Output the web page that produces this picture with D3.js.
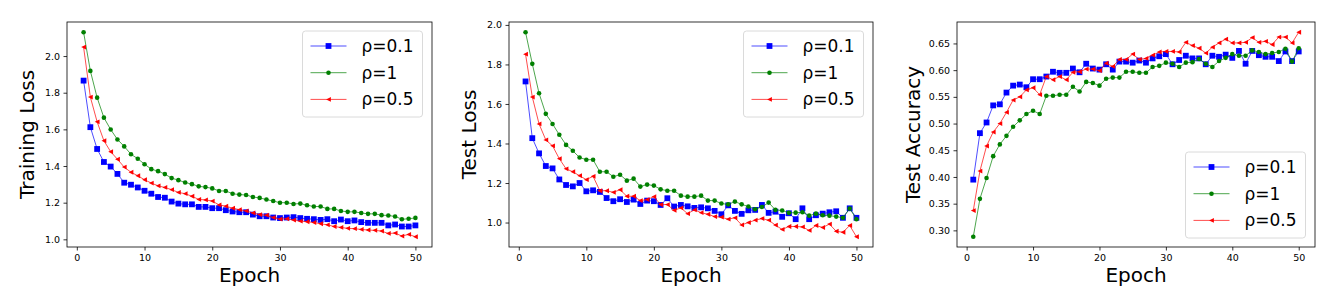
<!DOCTYPE html>
<html>
<head>
<meta charset="utf-8">
<script src="https://cdn.jsdelivr.net/npm/d3@7"></script>
<style>
  body { margin: 0; background: #fff; }
  svg { display: block; font-family: "DejaVu Sans", sans-serif; }
</style>
</head>
<body>
<svg id="chart" width="1336" height="308"></svg>
<script>
// epochs 1..50
var epochs = [1,2,3,4,5,6,7,8,9,10,11,12,13,14,15,16,17,18,19,20,21,22,23,24,25,
  26,27,28,29,30,31,32,33,34,35,36,37,38,39,40,41,42,43,44,45,46,47,48,49,50]
var seriesNames = ["ρ=0.1", "ρ=1", "ρ=0.5"]
var xTicks = [0, 10, 20, 30, 40, 50]

// Training loss
var trainLoss01 = [1.866,1.612,1.493,1.422,1.397,1.357,1.309,1.298,1.283,1.265,1.249,1.231,1.227,1.206,1.195,
  1.191,1.191,1.177,1.177,1.170,1.170,1.159,1.152,1.148,1.148,1.135,1.126,1.126,1.119,1.116,
  1.119,1.121,1.116,1.112,1.110,1.106,1.110,1.099,1.108,1.099,1.103,1.094,1.090,1.090,1.090,
  1.076,1.081,1.070,1.070,1.076]
var trainLoss1 = [2.130,1.919,1.773,1.664,1.599,1.545,1.507,1.464,1.440,1.410,1.383,1.372,1.356,1.334,1.323,
  1.310,1.301,1.289,1.285,1.278,1.264,1.264,1.249,1.244,1.242,1.231,1.226,1.217,1.209,1.200,
  1.200,1.193,1.195,1.186,1.179,1.179,1.166,1.166,1.155,1.150,1.150,1.144,1.139,1.139,1.132,
  1.130,1.125,1.110,1.112,1.117]
var trainLoss05 = [2.049,1.776,1.641,1.538,1.478,1.437,1.394,1.366,1.347,1.325,1.307,1.292,1.283,1.271,1.256,
  1.249,1.235,1.218,1.215,1.209,1.188,1.181,1.170,1.162,1.155,1.144,1.135,1.132,1.119,1.110,
  1.112,1.105,1.099,1.096,1.092,1.085,1.079,1.070,1.065,1.060,1.058,1.054,1.051,1.049,1.045,
  1.032,1.034,1.018,1.027,1.014]
var trainTicks = [1.0, 1.2, 1.4, 1.6, 1.8, 2.0]

// Test loss
var testLoss01 = [1.714,1.427,1.350,1.286,1.274,1.218,1.190,1.183,1.200,1.158,1.163,1.155,1.124,1.108,1.118,
  1.104,1.116,1.094,1.111,1.108,1.089,1.123,1.081,1.089,1.082,1.074,1.077,1.072,1.059,1.042,
  1.087,1.059,1.044,1.062,1.064,1.089,1.049,1.055,1.029,1.047,1.017,1.072,1.017,1.037,1.045,
  1.052,1.057,1.024,1.072,1.024]
var testLoss1 = [1.963,1.803,1.654,1.550,1.499,1.444,1.393,1.363,1.329,1.318,1.318,1.257,1.257,1.232,1.242,
  1.212,1.222,1.182,1.192,1.187,1.168,1.161,1.161,1.136,1.131,1.131,1.136,1.111,1.111,1.096,
  1.092,1.106,1.092,1.081,1.067,1.079,1.101,1.064,1.061,1.049,1.050,1.052,1.035,1.045,1.037,
  1.035,1.030,1.024,1.071,1.017]
var testLoss05 = [1.852,1.635,1.499,1.418,1.388,1.323,1.272,1.257,1.237,1.217,1.234,1.161,1.161,1.153,1.166,
  1.133,1.133,1.111,1.116,1.131,1.091,1.091,1.062,1.074,1.045,1.064,1.050,1.042,1.030,1.027,
  1.017,1.024,0.988,1.000,1.012,1.020,1.012,0.987,0.965,0.980,0.980,0.978,0.960,0.985,0.975,
  0.992,0.956,0.951,0.985,0.928]
var testLossTicks = [1.0, 1.2, 1.4, 1.6, 1.8, 2.0]

// Test accuracy
var testAcc01 = [0.395,0.482,0.502,0.534,0.536,0.558,0.571,0.573,0.568,0.583,0.583,0.588,0.597,0.595,0.595,
  0.603,0.596,0.612,0.603,0.601,0.611,0.601,0.616,0.616,0.614,0.618,0.614,0.622,0.626,0.630,
  0.611,0.619,0.627,0.622,0.622,0.611,0.627,0.625,0.629,0.623,0.636,0.612,0.636,0.628,0.625,
  0.625,0.617,0.635,0.617,0.635]
var testAcc1 = [0.288,0.359,0.398,0.439,0.461,0.477,0.494,0.506,0.518,0.524,0.518,0.552,0.552,0.554,0.554,
  0.569,0.560,0.578,0.576,0.571,0.584,0.586,0.586,0.597,0.597,0.595,0.595,0.606,0.608,0.614,
  0.612,0.606,0.614,0.615,0.621,0.612,0.606,0.617,0.623,0.630,0.627,0.627,0.637,0.634,0.630,
  0.632,0.634,0.640,0.616,0.641]
var testAcc05 = [0.337,0.411,0.458,0.484,0.500,0.521,0.544,0.550,0.563,0.567,0.554,0.588,0.582,0.588,0.582,
  0.596,0.597,0.602,0.602,0.599,0.613,0.607,0.620,0.620,0.630,0.620,0.622,0.628,0.634,0.635,
  0.635,0.634,0.652,0.646,0.641,0.632,0.643,0.651,0.658,0.651,0.651,0.652,0.661,0.652,0.654,
  0.648,0.662,0.662,0.651,0.671]
var testAccTicks = [0.30, 0.35, 0.40, 0.45, 0.50, 0.55, 0.60, 0.65]

var colors = ["#0000ff", "#008000", "#ff0000"]

var panels = [
  {left: 67, right: 432, ylabel: "Training Loss", labelX: 34, data: [trainLoss01, trainLoss1, trainLoss05],
    yTicks: trainTicks, fmt: d3.format(".1f"), legend: "top"},
  {left: 509, right: 873, ylabel: "Test Loss", labelX: 476, data: [testLoss01, testLoss1, testLoss05],
    yTicks: testLossTicks, fmt: d3.format(".1f"), legend: "top"},
  {left: 957, right: 1315, ylabel: "Test Accuracy", labelX: 920, data: [testAcc01, testAcc1, testAcc05],
    yTicks: testAccTicks, fmt: d3.format(".2f"), legend: "bottom"}
]
var plotTop = 22, plotBottom = 247

var svg = d3.select("#chart")

function padded(lo, hi) {
  var m = (hi - lo) * 0.05
  return [lo - m, hi + m]
}

function drawMarker(g, i, x, y) {
  if (i == 0) {
    g.append("rect").attr("x", x - 2.9).attr("y", y - 2.9).attr("width", 5.8).attr("height", 5.8)
      .attr("fill", colors[0])
  } else if (i == 1) {
    g.append("circle").attr("cx", x).attr("cy", y).attr("r", 2.3).attr("fill", colors[1])
  } else {
    g.append("path").attr("d", "M" + (x - 2.4) + "," + y + "L" + (x + 2.4) + "," + (y - 2.4) +
      "L" + (x + 2.4) + "," + (y + 2.4) + "Z").attr("fill", colors[2])
  }
}

panels.forEach(function(p) {
  var all = [].concat(p.data[0], p.data[1], p.data[2])
  var x = d3.scaleLinear().domain(padded(1, 50)).range([p.left, p.right])
  var y = d3.scaleLinear().domain(padded(d3.min(all), d3.max(all))).range([plotBottom, plotTop])

  var g = svg.append("g")

  g.append("g")
    .attr("transform", "translate(0," + plotBottom + ")")
    .call(d3.axisBottom(x).tickValues(xTicks).tickSize(3.5).tickPadding(3.5).tickFormat(d3.format("d")))
  g.append("g")
    .attr("transform", "translate(" + p.left + ",0)")
    .call(d3.axisLeft(y).tickValues(p.yTicks).tickSize(3.5).tickPadding(3.5).tickFormat(p.fmt))
  g.selectAll(".domain").remove()
  g.selectAll(".tick line").attr("stroke", "#000").attr("stroke-width", 0.8)
  g.selectAll(".tick text").attr("font-size", 9.5).attr("fill", "#000")
    .attr("font-family", "DejaVu Sans, sans-serif")

  // frame
  g.append("rect").attr("x", p.left).attr("y", plotTop).attr("width", p.right - p.left)
    .attr("height", plotBottom - plotTop).attr("fill", "none").attr("stroke", "#000").attr("stroke-width", 0.8)

  var line = d3.line().x(function(d, i) { return x(epochs[i]) }).y(function(d) { return y(d) })
  p.data.forEach(function(series, si) {
    g.append("path").datum(series).attr("d", line).attr("fill", "none")
      .attr("stroke", colors[si]).attr("stroke-width", 0.7)
    var mg = g.append("g")
    series.forEach(function(v, k) { drawMarker(mg, si, x(epochs[k]), y(v)) })
  })

  // labels
  g.append("text").attr("x", (p.left + p.right) / 2).attr("y", 282).attr("text-anchor", "middle")
    .attr("font-size", 20).text("Epoch")
  g.append("text").attr("transform", "translate(" + p.labelX + "," + (plotTop + plotBottom) / 2 + ") rotate(-90)")
    .attr("text-anchor", "middle").attr("font-size", 20).text(p.ylabel)

  // legend
  var lw = 120, lh = 86
  var lx = p.right - 9.5 - lw
  var ly = p.legend == "top" ? plotTop + 9 : plotBottom - 9 - lh
  var lg = g.append("g")
  lg.append("rect").attr("x", lx).attr("y", ly).attr("width", lw).attr("height", lh)
    .attr("rx", 3).attr("fill", "#fff").attr("fill-opacity", 0.8)
    .attr("stroke", "#d0d0d0").attr("stroke-width", 0.8)
  seriesNames.forEach(function(name, si) {
    var ry = ly + 15 + si * 26.7
    lg.append("line").attr("x1", lx + 8).attr("x2", lx + 44).attr("y1", ry).attr("y2", ry)
      .attr("stroke", colors[si]).attr("stroke-width", 0.7)
    drawMarker(lg, si, lx + 26, ry)
    lg.append("text").attr("x", lx + 59).attr("y", ry + 6).attr("font-size", 17).text(name)
  })
})
</script>
</body>
</html>
